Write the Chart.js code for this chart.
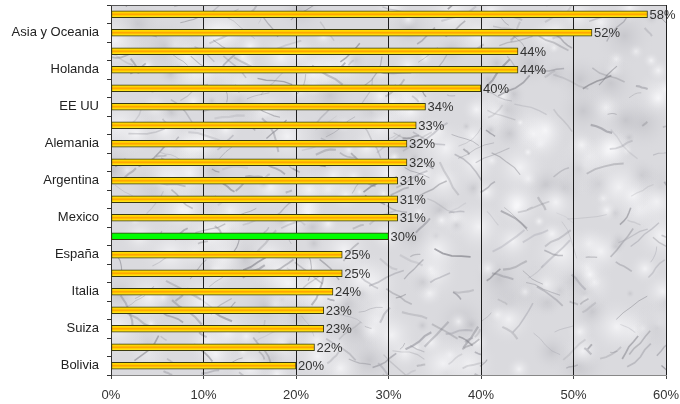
<!DOCTYPE html>
<html>
<head>
<meta charset="utf-8">
<script src="https://cdn.jsdelivr.net/npm/chart.js@4.4.1/dist/chart.umd.min.js"></script>
<style>
  body { margin: 0; background: #fff; }
  #chart { display: block; }
</style>
</head>
<body>
<canvas id="chart" width="680" height="404"></canvas>
<script>
// categories (only every second bar carries a name)
var labels = ['', 'Asia y Oceania', '', 'Holanda', '', 'EE UU', '', 'Alemania', '', 'Argentina',
              '', 'Mexico', '', 'España', '', 'Italia', '', 'Suiza', '', 'Bolivia'];
var values = [58, 52, 44, 44, 40, 34, 33, 32, 32, 31, 31, 31, 30, 25, 25, 24, 23, 23, 22, 20];
var highlight = 12; // the green bar
var xTicks = [0, 10, 20, 30, 40, 50, 60];

var FONT = '"Liberation Sans", Arial, sans-serif';

// simple seeded generator for the marble texture
var seed = 11;
function rnd() {
    seed = (seed * 16807) % 2147483647;
    return (seed - 1) / 2147483646;
}

var marble = null;
function makeMarble(w, h) {
    var c = document.createElement('canvas');
    c.width = w; c.height = h;
    var g = c.getContext('2d');
    g.fillStyle = '#dadade';
    g.fillRect(0, 0, w, h);
    // mottled light and grey patches
    for (var i = 0; i < 320; i++) {
        var x = rnd() * w, y = rnd() * h, r = 5 + rnd() * 28;
        var rg = g.createRadialGradient(x, y, 0, x, y, r);
        var light = rnd() > 0.3;
        rg.addColorStop(0, light ? 'rgba(252,252,254,0.7)' : 'rgba(165,165,172,0.35)');
        rg.addColorStop(1, 'rgba(220,220,224,0)');
        g.fillStyle = rg;
        g.fillRect(x - r, y - r, r * 2, r * 2);
    }
    // soft cracks, mostly running diagonally
    g.filter = 'blur(0.7px)';
    for (var j = 0; j < 340; j++) {
        var x0 = rnd() * w, y0 = rnd() * h;
        var ang = (rnd() > 0.45 ? -0.55 : 0.6) + (rnd() - 0.5) * 0.6;
        var len = 6 + rnd() * 34;
        g.beginPath();
        g.moveTo(x0, y0);
        var px = x0, py = y0;
        for (var k = 0; k < 4; k++) {
            ang += (rnd() - 0.5) * 0.6;
            px += Math.cos(ang) * len / 4;
            py += Math.sin(ang) * len / 4;
            g.lineTo(px, py);
        }
        var shade = 115 + Math.floor(rnd() * 60);
        g.strokeStyle = 'rgba(' + shade + ',' + shade + ',' + (shade + 8) + ',' + (0.25 + rnd() * 0.35) + ')';
        g.lineWidth = 0.7 + rnd() * 1.5;
        g.stroke();
    }
    g.filter = 'none';
    return c;
}

var backdrop = {
    id: 'backdrop',
    beforeDraw: function (chart) {
        var a = chart.chartArea, ctx = chart.ctx;
        if (!marble) marble = makeMarble(Math.ceil(a.right - a.left), Math.ceil(a.bottom - a.top));
        ctx.drawImage(marble, a.left, a.top);
    },
    afterDraw: function (chart) {
        var a = chart.chartArea, ctx = chart.ctx;
        ctx.save();
        ctx.strokeStyle = '#555';
        ctx.lineWidth = 1;
        ctx.beginPath();
        ctx.moveTo(a.left, a.top + 0.5);
        ctx.lineTo(a.right, a.top + 0.5);
        ctx.stroke();
        ctx.restore();
    }
};

// percentage text at the end of each bar
var barValues = {
    id: 'barValues',
    afterDatasetsDraw: function (chart) {
        var ctx = chart.ctx;
        var meta = chart.getDatasetMeta(0);
        ctx.save();
        ctx.font = '13px ' + FONT;
        ctx.fillStyle = '#333';
        ctx.textBaseline = 'middle';
        meta.data.forEach(function (bar, i) {
            ctx.fillText(values[i] + '%', bar.x + 2, bar.y + 1);
        });
        ctx.restore();
    }
};

function barFill(context) {
    var chart = context.chart;
    if (context.dataIndex === highlight) return '#00ff00';
    var ys = chart.scales.y;
    if (!ys || ys.top === undefined) return '#ffcc00';
    var y = ys.getPixelForValue(context.dataIndex);
    var grad = chart.ctx.createLinearGradient(0, y - 3.5, 0, y + 3.5);
    grad.addColorStop(0, '#ffe400');
    grad.addColorStop(0.3, '#ffd200');
    grad.addColorStop(0.5, '#ff9c00');
    grad.addColorStop(0.7, '#ffd400');
    grad.addColorStop(1, '#fff232');
    return grad;
}

var ctx = document.getElementById('chart').getContext('2d');
var myChart = new Chart(ctx, {
    type: 'bar',
    data: {
        labels: labels,
        datasets: [{
            data: values,
            backgroundColor: barFill,
            borderColor: '#3a3a10',
            borderWidth: 1,
            borderSkipped: false,
            barThickness: 7
        }]
    },
    options: {
        indexAxis: 'y',
        responsive: false,
        animation: false,
        layout: { padding: { top: 5, right: 14, left: 0, bottom: 0 } },
        plugins: {
            legend: { display: false },
            tooltip: { enabled: false }
        },
        scales: {
            x: {
                min: 0,
                max: 60,
                afterBuildTicks: function (scale) {
                    scale.ticks = xTicks.map(function (v) { return { value: v }; });
                },
                afterFit: function (scale) {
                    scale.height = 29;
                    scale.paddingLeft = 0;
                    scale.paddingRight = 0;
                },
                ticks: {
                    callback: function (v) { return v + '%'; },
                    font: { size: 13, family: FONT },
                    color: '#333',
                    padding: 9,
                    maxRotation: 0
                },
                grid: { color: '#1e1e1e', lineWidth: 1, tickLength: 4, tickColor: '#444' },
                border: { color: '#888', width: 1 }
            },
            y: {
                afterFit: function (scale) {
                    scale.width = 111;
                    scale.paddingTop = 0;
                    scale.paddingBottom = 0;
                },
                ticks: {
                    autoSkip: false,
                    font: { size: 13, family: FONT },
                    color: '#222',
                    padding: 8
                },
                grid: { offset: true, drawOnChartArea: false, tickLength: 4, color: '#333' },
                border: { color: '#333', width: 1 }
            }
        }
    },
    plugins: [backdrop, barValues]
});
</script>
</body>
</html>
